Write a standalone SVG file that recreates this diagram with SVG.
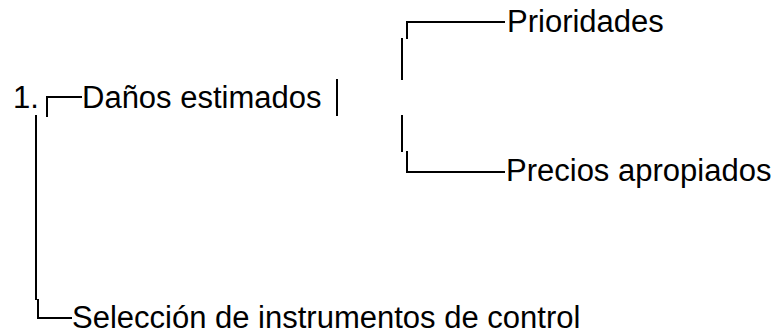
<svg xmlns="http://www.w3.org/2000/svg" width="775" height="335" viewBox="0 0 775 335">
  <style>
    .t { font-family: "Liberation Sans", Arial, sans-serif; font-size: 31px; fill: #000; }
    .c { fill: none; stroke: #000; stroke-width: 2; stroke-linecap: butt; stroke-linejoin: miter; }
  </style>
  <rect width="775" height="335" fill="#fff"/>
  <g id="connectors">
    <path class="c" d="M47,117 V97 H82"/>
    <path class="c" d="M337,79 V116"/>
    <path class="c" d="M402,80 V38"/>
    <path class="c" d="M407,39 V22 H505"/>
    <path class="c" d="M402,115 V152"/>
    <path class="c" d="M407,151 V172 H505"/>
    <path class="c" d="M36,115 V300"/>
    <path class="c" d="M38,299 V318 H72"/>
  </g>
  <g id="node-num"><text class="t" x="13" y="108">1.</text></g>
  <g id="node-danos"><text class="t" x="82" y="108">Daños estimados</text></g>
  <g id="node-prioridades"><text class="t" x="507" y="32">Prioridades</text></g>
  <g id="node-precios"><text class="t" x="506" y="181">Precios apropiados</text></g>
  <g id="node-seleccion"><text class="t" x="72" y="328">Selección de instrumentos de control</text></g>
</svg>
